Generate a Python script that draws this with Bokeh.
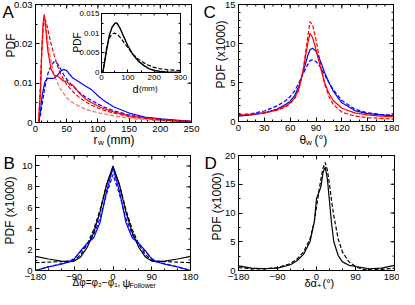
import math
from bokeh.plotting import figure
from bokeh.models import Range1d, FixedTicker, Label, NumeralTickFormatter, LinearAxis
from bokeh.layouts import column, row
from bokeh.embed import file_html
from bokeh.resources import INLINE

FONT = "Liberation Sans"
RED = "#ff0000"
LRED = "#ff6a6a"
BLUE = "#0000ff"
BLACK = "#000000"

# ---------------- data ----------------
# Panel A: PDF of r_w (mm)
ars_x = [5, 8, 10, 12, 14, 16, 18, 20, 25, 30, 35, 38, 45, 50, 55, 60, 65, 70, 80, 90, 100, 110, 125, 150, 175, 200, 225, 250]
ars_y = [0, 0.008, 0.018, 0.025, 0.0275, 0.025, 0.021, 0.018, 0.0135, 0.012, 0.0118, 0.0115, 0.0105, 0.0105, 0.0095, 0.0095,
         0.0085, 0.0075, 0.006, 0.005, 0.0042, 0.0035, 0.0027, 0.0017, 0.0012, 0.0008, 0.0005, 0.0003]
ard_x = [5, 8, 10, 12, 14, 16, 18, 20, 25, 30, 35, 40, 45, 50, 60, 70, 80, 90, 100, 110, 125, 150, 175, 200, 225, 250]
ard_y = [0, 0.01, 0.018, 0.024, 0.026, 0.026, 0.025, 0.0235, 0.02, 0.017, 0.0145, 0.0125, 0.011, 0.0097, 0.0078, 0.0064,
         0.0053, 0.0044, 0.0037, 0.0031, 0.0024, 0.0015, 0.001, 0.0006, 0.0004, 0.0002]
arl_x = [5, 8, 10, 12, 14, 16, 18, 20, 25, 30, 40, 50, 60, 70, 80, 90, 100, 125, 150, 175, 200, 250]
arl_y = [0, 0.009, 0.017, 0.023, 0.0255, 0.025, 0.0225, 0.02, 0.0155, 0.012, 0.0085, 0.0063, 0.005, 0.0041, 0.0034,
         0.0029, 0.0025, 0.0017, 0.0011, 0.0007, 0.0004, 0.0002]
abs_x = [5, 8, 10, 12, 15, 18, 20, 25, 30, 35, 40, 45, 50, 55, 60, 70, 80, 90, 100, 110, 125, 150, 175, 200, 225, 250]
abs_y = [0, 0.003, 0.006, 0.008, 0.0103, 0.011, 0.0112, 0.0112, 0.0113, 0.012, 0.013, 0.0135, 0.0132, 0.0122, 0.0113,
         0.0103, 0.0093, 0.0083, 0.0068, 0.0055, 0.004, 0.0024, 0.0014, 0.0009, 0.0006, 0.0003]
abd_x = [5, 8, 10, 12, 15, 18, 20, 25, 30, 35, 40, 45, 50, 60, 70, 80, 90, 100, 110, 125, 150, 175, 200, 225, 250]
abd_y = [0, 0.002, 0.004, 0.006, 0.009, 0.011, 0.0125, 0.0145, 0.0155, 0.015, 0.0137, 0.0122, 0.011, 0.0092, 0.0077,
         0.0065, 0.0056, 0.0047, 0.0039, 0.003, 0.0019, 0.0012, 0.0008, 0.0005, 0.0003]

# Inset: PDF of d (mm)
ins_x = [0, 5, 10, 20, 30, 40, 50, 55, 60, 70, 80, 100, 120, 140, 160, 180, 200, 220, 250, 300]
ins_y = [0, 0, 0.002, 0.006, 0.0095, 0.0115, 0.0124, 0.0126, 0.0124, 0.0113, 0.0098, 0.0068, 0.0045, 0.0029, 0.0018,
         0.001, 0.0005, 0.0003, 0.0001, 0.00005]
ind_x = [0, 5, 10, 20, 30, 40, 50, 60, 70, 80, 100, 120, 140, 160, 180, 200, 220, 250, 300]
ind_y = [0, 0, 0.002, 0.0065, 0.0088, 0.0098, 0.01, 0.0097, 0.009, 0.0081, 0.0063, 0.0046, 0.0034, 0.0025, 0.0018,
         0.0013, 0.001, 0.0007, 0.0005]

# Panel C: PDF(x1000) of theta_w
c_x = [0, 15, 30, 45, 55, 60, 65, 70, 75, 80, 83, 86, 90, 95, 100, 105, 110, 120, 135, 150, 165, 180]
c_rs = [0.8, 0.9, 1.1, 1.5, 2.0, 2.4, 3.0, 4.2, 6.5, 9.8, 11.3, 10.8, 9.2, 7.0, 5.0, 3.6, 2.7, 1.7, 1.1, 0.85, 0.7, 0.6]
c_rd = [0.9, 0.95, 1.1, 1.45, 1.9, 2.3, 2.9, 4.0, 6.5, 10.5, 12.8, 12.4, 10.5, 7.5, 4.8, 3.2, 2.2, 1.2, 0.7, 0.5, 0.4, 0.3]
c_bs = [0.7, 0.85, 1.1, 1.6, 2.2, 2.6, 3.3, 4.5, 6.3, 8.3, 9.2, 9.4, 9.0, 7.8, 6.3, 5.0, 3.9, 2.4, 1.4, 1.0, 0.85, 0.75]
c_bd = [0.8, 1.0, 1.35, 2.0, 2.7, 3.2, 3.9, 4.9, 6.1, 7.2, 7.8, 7.9, 7.7, 7.0, 6.0, 5.0, 4.1, 2.7, 1.6, 1.1, 0.9, 0.8]

# Panel B: PDF(x1000) of delta phi
b_x = [-180, -150, -120, -100, -90, -75, -60, -45, -30, -15, 0, 15, 30, 45, 60, 75, 90, 100, 120, 150, 180]
b_ks = [1.35, 1.1, 0.9, 0.85, 0.9, 1.3, 2.2, 3.6, 5.6, 8.2, 10.0, 8.2, 5.6, 3.6, 2.2, 1.3, 0.9, 0.85, 0.9, 1.1, 1.35]
b_kd = [0.75, 0.8, 0.85, 0.9, 1.0, 1.5, 2.5, 3.9, 5.8, 8.2, 9.8, 8.2, 5.8, 3.9, 2.5, 1.5, 1.0, 0.9, 0.85, 0.8, 0.75]
b_bs = [0, 0.35, 0.6, 0.85, 1.1, 1.9, 2.6, 3.1, 4.6, 7.6, 9.8, 7.6, 4.6, 3.1, 2.6, 1.9, 1.1, 0.85, 0.6, 0.35, 0]
b_bd = [0, 0.35, 0.65, 0.9, 1.15, 1.8, 2.5, 3.4, 5.0, 7.3, 9.2, 7.3, 5.0, 3.4, 2.5, 1.8, 1.15, 0.9, 0.65, 0.35, 0]

# Panel D: PDF(x1000) of delta alpha
d_x = [-180, -150, -120, -90, -60, -45, -30, -15, -5, 0, 5, 10, 15, 20, 25, 30, 35, 40, 50, 60, 75, 90, 105, 120, 150, 180]
d_ks = [0.8, 0.4, 0.3, 0.4, 1.0, 1.7, 2.8, 5.0, 8.5, 12.5, 13.5, 14.5, 17.0, 18.0, 16.0, 12.0, 8.0, 5.0, 2.6, 1.5, 0.9,
        0.7, 0.5, 0.3, 0.4, 0.9]
d_kd = [0.5, 0.3, 0.3, 0.5, 1.2, 2.0, 3.2, 5.5, 8.5, 11.0, 13.5, 15.8, 17.8, 18.8, 17.5, 15.0, 12.0, 9.5, 5.5, 3.2, 1.5,
        0.7, 0.2, 0.1, 0.2, 0.4]

TICK_FS = "9.5px"
LW = 1.2
DASH = "4 2"


def steps(a, b, s):
    out = []
    v = a
    while v <= b + 1e-9:
        out.append(round(v, 6))
        v += s
    return out


def style_axis(ax, fs=TICK_FS, tin=4, min_in=2, standoff=3):
    ax.axis_line_color = BLACK
    ax.major_tick_line_color = BLACK
    ax.minor_tick_line_color = BLACK
    ax.major_tick_in = tin
    ax.major_tick_out = 0
    ax.minor_tick_in = min_in
    ax.minor_tick_out = 0
    ax.major_label_text_font = FONT
    ax.major_label_text_color = BLACK
    ax.major_label_text_font_size = fs
    ax.major_label_standoff = standoff
    ax.axis_label = None


class Panel:
    """A figure whose whole canvas is the Bokeh frame; the visible plot box is placed
    inside it by widening the ranges, and the axes are drawn at fixed locations."""

    def __init__(self, width, height, origin, box, xr, yr):
        ox, oy = origin
        L, R, T, B = box
        dx = (xr[1] - xr[0]) / (R - L)
        dy = (yr[1] - yr[0]) / (B - T)
        self.fxr = (xr[0] - (L - ox) * dx, xr[1] + (ox + width - R) * dx)
        self.fyr = (yr[0] - (oy + height - B) * dy, yr[1] + (T - oy) * dy)
        self.origin, self.size = origin, (width, height)
        self.box, self.xr, self.yr, self.dx, self.dy = box, xr, yr, dx, dy
        p = figure(width=width, height=height, x_range=Range1d(*self.fxr), y_range=Range1d(*self.fyr),
                   output_backend="svg", toolbar_location=None,
                   min_border_left=0, min_border_right=0, min_border_top=0, min_border_bottom=0)
        p.xgrid.visible = False
        p.ygrid.visible = False
        p.outline_line_color = None
        p.background_fill_color = "white"
        p.border_fill_color = "white"
        self.p = p

    def axes(self, xt, xm, yt, ym, yfmt=None):
        p, xr, yr = self.p, self.xr, self.yr
        ax = p.xaxis[0]
        ax.ticker = FixedTicker(ticks=xt, minor_ticks=xm)
        ax.fixed_location = yr[0]
        ax.bounds = xr
        style_axis(ax)
        ay = p.yaxis[0]
        ay.ticker = FixedTicker(ticks=yt, minor_ticks=ym)
        ay.fixed_location = xr[0]
        ay.bounds = yr
        if yfmt is not None:
            ay.formatter = yfmt
        style_axis(ay)
        p.segment(x0=[xr[0]], y0=[yr[1]], x1=[xr[1]], y1=[yr[1]], color=BLACK, line_width=1)
        p.segment(x0=[xr[1]], y0=[yr[0]], x1=[xr[1]], y1=[yr[1]], color=BLACK, line_width=1)
        for ticks, ln in ((xm, 2), (xt, 4)):
            p.segment(x0=ticks, y0=[yr[1]] * len(ticks), x1=ticks, y1=[yr[1] - ln * self.dy] * len(ticks),
                      color=BLACK, line_width=1)
        for ticks, ln in ((ym, 2), (yt, 4)):
            p.segment(x0=[xr[1]] * len(ticks), y0=ticks, x1=[xr[1] - ln * self.dx] * len(ticks), y1=ticks,
                      color=BLACK, line_width=1)

    def lab(self, text, sx, sy, size, align="left", baseline="alphabetic", angle=0.0):
        L, R, T, B = self.box
        x = self.xr[0] + (sx - L) * self.dx
        y = self.yr[0] + (B - sy) * self.dy
        self.p.add_layout(Label(x=x, y=y, text=text, text_font=FONT, text_font_size=f"{size}px",
                                text_align=align, text_baseline=baseline, angle=angle, text_color=BLACK))


ROW1_H = 147
ROW2_Y = 8 + ROW1_H
ROW2_H = 297 - ROW2_Y

# ---------------- Panel A ----------------
A = Panel(200, ROW1_H, (8, 8), (43, 199, 12, 130), (0, 250), (0, 0.03))
pA = A.p
pA.line(arl_x, arl_y, color=LRED, line_width=LW, line_dash=DASH)
pA.line(ard_x, ard_y, color=RED, line_width=LW, line_dash=DASH)
pA.line(abd_x, abd_y, color=BLUE, line_width=LW, line_dash=DASH)
pA.line(abs_x, abs_y, color=BLUE, line_width=LW)
pA.line(ars_x, ars_y, color=RED, line_width=LW)
A.axes(steps(0, 250, 50), steps(0, 250, 10), [0, 0.01, 0.02, 0.03], steps(0, 0.03, 0.005),
       yfmt=NumeralTickFormatter(format="0.[00]"))

# inset, placed with its own extra ranges
IL, IR, IT, IB = 109, 188, 21, 80
ixr = (0, 300)
iyr = (0, 0.015)
idx = (ixr[1] - ixr[0]) / (IR - IL)
idy = (iyr[1] - iyr[0]) / (IB - IT)
fx_left, fy_top = A.origin
fx_right = fx_left + A.size[0]
fy_bottom = fy_top + A.size[1]
pA.extra_x_ranges = {"ix": Range1d(ixr[0] - (IL - fx_left) * idx, ixr[1] + (fx_right - IR) * idx)}
pA.extra_y_ranges = {"iy": Range1d(iyr[0] - (fy_bottom - IB) * idy, iyr[1] + (IT - fy_top) * idy)}
kw = dict(x_range_name="ix", y_range_name="iy")
pA.quad(left=[ixr[0]], right=[ixr[1]], bottom=[iyr[0]], top=[iyr[1]], fill_color="white",
        line_color=BLACK, line_width=1, **kw)
pA.line(ind_x, ind_y, color=BLACK, line_width=LW, line_dash=DASH, **kw)
pA.line(ins_x, ins_y, color=BLACK, line_width=LW * 1.2, **kw)
iax = LinearAxis(ticker=FixedTicker(ticks=steps(0, 300, 100), minor_ticks=steps(0, 300, 50)),
                 fixed_location=iyr[0], bounds=ixr, **kw)
style_axis(iax, fs="8px", tin=3, min_in=2, standoff=2)
iay = LinearAxis(ticker=FixedTicker(ticks=steps(0, 0.015, 0.005), minor_ticks=steps(0, 0.015, 0.0025)),
                 fixed_location=ixr[0], bounds=iyr, formatter=NumeralTickFormatter(format="0.[000]"), **kw)
style_axis(iay, fs="8px", tin=3, min_in=2, standoff=2)
pA.add_layout(iax, "below")
pA.add_layout(iay, "left")
imx = steps(0, 300, 50)
imy = steps(0, 0.015, 0.0025)
pA.segment(x0=imx, y0=[iyr[1]] * len(imx), x1=imx, y1=[iyr[1] - 2 * idy] * len(imx), color=BLACK, **kw)
pA.segment(x0=[ixr[1]] * len(imy), y0=imy, x1=[ixr[1] - 2 * idx] * len(imy), y1=imy, color=BLACK, **kw)

A.lab("A", 10, 20, 17)
A.lab("PDF", 18, 53, 12, align="center", baseline="middle", angle=math.pi / 2)
A.lab("r", 101, 147, 12)
A.lab("w", 105.5, 150, 8)
A.lab("(mm)", 114, 147, 12)
A.lab("PDF", 85, 50, 10, align="center", baseline="middle", angle=math.pi / 2)
A.lab("d", 140, 96, 11)
A.lab("(mm)", 146.5, 96, 8)

# ---------------- Panel C ----------------
C = Panel(199, ROW1_H, (208, 8), (246, 401, 12, 129), (0, 180), (0, 15))
pC = C.p
pC.line(c_x, c_bd, color=BLUE, line_width=LW, line_dash=DASH)
pC.line(c_x, c_rd, color=RED, line_width=LW, line_dash=DASH)
pC.line(c_x, c_bs, color=BLUE, line_width=LW)
pC.line(c_x, c_rs, color=RED, line_width=LW)
C.axes(steps(0, 180, 30), steps(0, 180, 10), steps(0, 15, 5), steps(0, 15, 1))
C.lab("C", 211, 20, 17)
C.lab("PDF (x1000)", 228, 62, 12, align="center", baseline="middle", angle=math.pi / 2)
C.lab("\u03b8", 307, 147, 12)
C.lab("w", 313.5, 150, 8)
C.lab("(\u00b0)", 322, 147, 12)

# ---------------- Panel B ----------------
Bp = Panel(200, ROW2_H, (8, ROW2_Y), (43, 198, 163, 278), (-180, 180), (0, 11))
pB = Bp.p
pB.line(b_x, b_kd, color=BLACK, line_width=LW, line_dash=DASH)
pB.line(b_x, b_bd, color=BLUE, line_width=LW, line_dash=DASH)
pB.line(b_x, b_ks, color=BLACK, line_width=LW)
pB.line(b_x, b_bs, color=BLUE, line_width=LW)
Bp.axes(steps(-180, 180, 90), steps(-180, 180, 30), steps(0, 10, 2), steps(0, 11, 1))
Bp.lab("B", 11, 171, 17)
Bp.lab("PDF (x1000)", 17, 218, 12, align="center", baseline="middle", angle=math.pi / 2)
Bp.lab("\u0394\u03c6=\u03c6\u2082\u2212\u03c6\u2081,", 80, 290, 10)
Bp.lab("\u03c8", 130, 290, 11)
Bp.lab("Follower", 137, 292.5, 7)

# ---------------- Panel D ----------------
D = Panel(199, ROW2_H, (208, ROW2_Y), (246, 402, 163, 278), (-180, 180), (0, 20))
pD = D.p
pD.line(d_x, d_kd, color=BLACK, line_width=LW, line_dash=DASH)
pD.line(d_x, d_ks, color=BLACK, line_width=LW)
D.axes(steps(-180, 180, 90), steps(-180, 180, 30), steps(0, 20, 5), steps(0, 20, 2.5))
D.lab("D", 212, 171, 17)
D.lab("PDF (x1000)", 224, 214, 12, align="center", baseline="middle", angle=math.pi / 2)
D.lab("\u03b4\u03b1", 312, 290, 11)
D.lab("+", 324.5, 292.5, 8)
D.lab("(\u00b0)", 330, 290, 11)

layout = column(row(pA, pC), row(pB, pD))
open("out.html", "w").write(file_html(layout, INLINE))
